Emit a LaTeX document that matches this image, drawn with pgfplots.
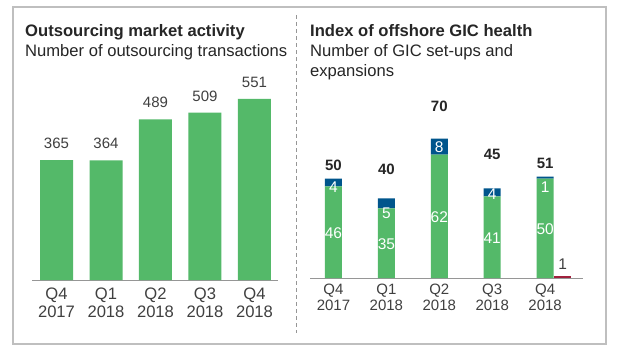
\documentclass[border=0pt]{standalone}
\usepackage{fontspec}
\setmainfont{Liberation Sans}
\usepackage{pgfplots}
\pgfplotsset{compat=1.18}
\definecolor{bargreen}{RGB}{84,185,105}
\definecolor{barblue}{RGB}{0,85,140}
\definecolor{barred}{RGB}{160,32,60}
\definecolor{txt}{RGB}{64,64,64}
\definecolor{ttl}{RGB}{38,38,38}
\definecolor{framegray}{RGB}{191,191,191}
\definecolor{axisgray}{RGB}{150,150,150}
\tikzset{
  vlab/.style={anchor=base, font=\fontsize{15}{18}\selectfont, text=txt, inner sep=0pt},
  tlab/.style={anchor=base, font=\fontsize{15}{18}\selectfont\bfseries, text=ttl, inner sep=0pt},
  ilab/.style={anchor=base, font=\fontsize{15.5}{18}\selectfont, text=white, inner sep=0pt},
}
\begin{document}
\begin{tikzpicture}
\useasboundingbox (0,0) rectangle (624pt,-356pt);
\fill[white] (0,0) rectangle (624pt,-356pt);
\draw[framegray, line width=1.5pt] (13pt,-7pt) rectangle (606pt,-344pt);
\draw[axisgray, dash pattern=on 4pt off 3pt, line width=0.8pt] (296pt,-15pt) -- (296pt,-333pt);
\node[anchor=base west, font=\fontsize{16.6}{20}\selectfont\bfseries, text=ttl, inner sep=0pt] at (25pt,-36pt) {Outsourcing market activity};
\node[anchor=base west, font=\fontsize{16.6}{20}\selectfont, text=ttl, inner sep=0pt] at (25pt,-56.7pt) {Number of outsourcing transactions};
\node[anchor=base west, font=\fontsize{16.6}{20}\selectfont\bfseries, text=ttl, inner sep=0pt] at (310pt,-36pt) {Index of offshore GIC health};
\node[anchor=base west, font=\fontsize{16.6}{20}\selectfont, text=ttl, inner sep=0pt] at (310pt,-56.7pt) {Number of GIC set-ups and};
\node[anchor=base west, font=\fontsize{16.6}{20}\selectfont, text=ttl, inner sep=0pt] at (310pt,-76pt) {expansions};

\begin{axis}[at={(32pt,-280pt)}, anchor=south west, scale only axis,
  width=246pt, height=197.2pt, xmin=-0.495, xmax=4.475, ymin=0, ymax=600,
  axis x line=bottom, hide y axis,
  x axis line style={draw=axisgray, line width=1pt, -},
  xtick={0,1,2,3,4},
  xticklabels={{Q4\\2017},{Q1\\2018},{Q2\\2018},{Q3\\2018},{Q4\\2018}},
  major tick length=0pt,
  xticklabel style={align=center, font=\fontsize{16.6}{17.7}\selectfont, text=txt, inner sep=0pt, yshift=-8pt},
  ybar, bar width=33pt, clip=false]
\addplot[fill=bargreen, draw=none] coordinates {(0,365) (1,364) (2,489) (3,509) (4,551)};
\node[vlab] at (axis cs:0,399.5) {365};
\node[vlab] at (axis cs:1,399.5) {364};
\node[vlab] at (axis cs:2,523.5) {489};
\node[vlab] at (axis cs:3,543.5) {509};
\node[vlab] at (axis cs:4,585.5) {551};
\end{axis}

\begin{axis}[at={(310pt,-278pt)}, anchor=south west, scale only axis,
  width=273pt, height=199pt, xmin=-0.444, xmax=4.716, ymin=0, ymax=100,
  axis x line=bottom, hide y axis,
  x axis line style={draw=axisgray, line width=1pt, -},
  xtick={0,1,2,3,4},
  xticklabels={{Q4\\2017},{Q1\\2018},{Q2\\2018},{Q3\\2018},{Q4\\2018}},
  major tick length=0pt,
  xticklabel style={align=center, font=\fontsize{15}{16}\selectfont, text=txt, inner sep=0pt, yshift=-6pt},
  ybar stacked, bar width=17pt, clip=false]
\addplot[fill=bargreen, draw=none] coordinates {(0,46) (1,35) (2,62) (3,41) (4,50)};
\addplot[fill=barblue, draw=none] coordinates {(0,4) (1,5) (2,8) (3,4) (4,1)};
\end{axis}

\begin{axis}[at={(310pt,-278pt)}, anchor=south west, scale only axis,
  width=273pt, height=199pt, xmin=-0.444, xmax=4.716, ymin=0, ymax=100,
  hide axis, ybar, bar width=17pt, clip=false]
\addplot[fill=barred, draw=none] coordinates {(4.33,1)};
\node[tlab] at (axis cs:0,53.8) {50};
\node[tlab] at (axis cs:1,51.8) {40};
\node[tlab] at (axis cs:2,83.9) {70};
\node[tlab] at (axis cs:3,59.3) {45};
\node[tlab] at (axis cs:4,55.1) {51};
\node[ilab] at (axis cs:0,19.9) {46};
\node[ilab] at (axis cs:0,43.2) {4};
\node[ilab] at (axis cs:1,14.4) {35};
\node[ilab] at (axis cs:1,30.0) {5};
\node[ilab] at (axis cs:2,27.8) {62};
\node[ilab] at (axis cs:2,63.2) {8};
\node[ilab] at (axis cs:3,17.4) {41};
\node[ilab] at (axis cs:3,39.2) {4};
\node[ilab] at (axis cs:4,22.0) {50};
\node[ilab] at (axis cs:4,43.2) {1};
\node[vlab, font=\fontsize{15.5}{18}\selectfont] at (axis cs:4.33,4.4) {1};
\end{axis}
\end{tikzpicture}
\end{document}
